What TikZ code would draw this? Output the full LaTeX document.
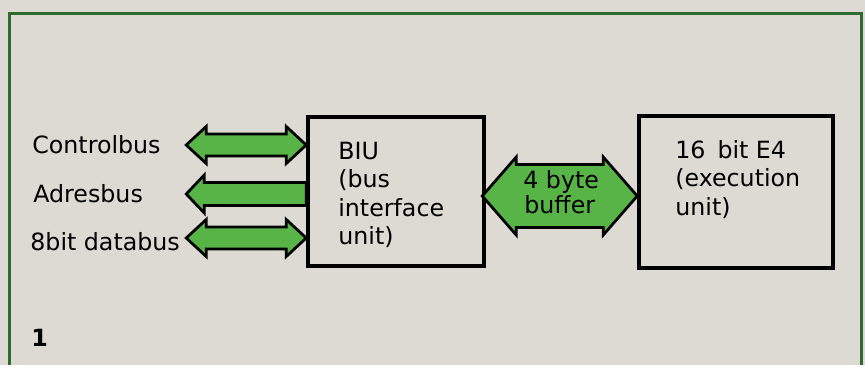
\documentclass[tikz,border=0pt]{standalone}
\usepackage{fontspec}
\setmainfont{DejaVu Sans}
\definecolor{papier}{HTML}{DDDAD4}
\definecolor{kader}{HTML}{2F6A2F}
\definecolor{busgroen}{HTML}{58B447}
\begin{document}
\begin{tikzpicture}[x=0.2mm,y=0.2mm,
    blok/.style={draw,line width=0.7mm,inner sep=0pt},
    bus/.style={draw,line width=0.55mm,fill=busgroen,line join=miter},
    lbl/.style={font=\fontsize{13.5}{16}\selectfont,anchor=base west,inner sep=0pt}]
  % --- achtergrond en kader ---
  \fill[papier] (0,0) rectangle (865,365);
  \draw[kader,line width=0.6mm] (9,0) -- (9,352) -- (861,352) -- (861,0);
  % --- blokken ---
  \node[blok,minimum width=35.2mm,minimum height=29.8mm] (BIU) at (396,173.5) {};
  \node[blok,minimum width=38.8mm,minimum height=30.4mm] (EU) at (736,173) {};
  \foreach \r [count=\i from 0] in {BIU,{(bus},interface,{unit)}}
    \node[lbl] (biu\i) at (338,206-28.5*\i) {\r};
  \foreach \r [count=\i from 0] in {{16\hspace{2.4mm}bit\hspace{1.5mm}E4},{(execution},{unit)}}
    \node[lbl] (eu\i) at (675,207-28.5*\i) {\r};
  % --- bussen links ---
  \node[lbl] (cb) at (32,212) {Controlbus};
  \node[lbl] (ab) at (33,163) {Adresbus};
  \node[lbl] (db) at (30,115) {8bit databus};
  \foreach \y in {220,127}
    \draw[bus] (BIU.west |- 0,\y) -- ++(-20,18.5) -- ++(0,-7.5) -- ++(-80,0)
      -- ++(0,7.5) -- ++(-20,-18.5) -- ++(20,-18.5) -- ++(0,7.5) -- ++(80,0)
      -- ++(0,-7.5) -- cycle;
  \draw[bus] (BIU.west |- 0,182.5) -- ++(-102,0) -- ++(0,7.5) -- ++(-18,-19)
    -- ++(18,-19) -- ++(0,7.5) -- ++(102,0) -- cycle;
  % --- buffer tussen BIU en EU ---
  \draw[bus] (EU.west |- 0,169) -- ++(-34,39) -- ++(0,-7.5) -- ++(-87,0)
    -- ++(0,7.5) -- ++(-34,-39) -- ++(34,-39) -- ++(0,7.5) -- ++(87,0)
    -- ++(0,-7.5) -- cycle;
  \node[lbl] (buf1) at (523,177) {4 byte};
  \node[lbl] (buf2) at (524,152) {buffer};
  % --- figuurnummer ---
  \node[lbl,font=\fontsize{13.5}{16}\selectfont\bfseries] (nr) at (31,19) {1};
\end{tikzpicture}
\end{document}
